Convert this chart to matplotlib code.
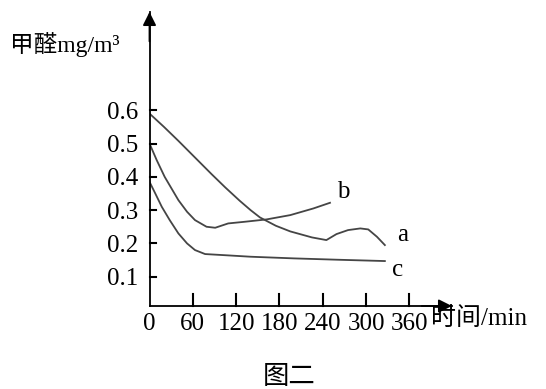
"""Formaldehyde concentration over time (图二)."""

import matplotlib
matplotlib.use("Agg")
import matplotlib.pyplot as plt

plt.rcParams["font.family"] = ["Liberation Serif", "Noto Sans CJK SC"]

a_time = [0, 20, 40, 63, 86, 105, 125, 140, 153, 175, 195, 225, 245, 259, 275, 292, 303, 315, 326]
a_conc = [0.59, 0.55, 0.508, 0.458, 0.408, 0.368, 0.328, 0.30, 0.278, 0.253, 0.236, 0.218,
          0.21, 0.228, 0.24, 0.245, 0.242, 0.22, 0.195]
b_time = [0, 10, 21, 40, 52, 63, 79, 91, 109, 132, 162, 195, 227, 250]
b_conc = [0.50, 0.45, 0.40, 0.33, 0.295, 0.27, 0.25, 0.247, 0.26, 0.265, 0.272, 0.285,
          0.305, 0.322]
c_time = [0, 8, 17, 28, 40, 52, 63, 77, 109, 140, 200, 260, 326]
c_conc = [0.385, 0.35, 0.31, 0.27, 0.23, 0.20, 0.18, 0.168, 0.164, 0.16, 0.155, 0.151, 0.147]

x_ticks = [0, 60, 120, 180, 240, 300, 360]
y_ticks = [0.1, 0.2, 0.3, 0.4, 0.5, 0.6]
curve_labels = [("a", 350, 0.225), ("b", 268, 0.354), ("c", 343, 0.12)]

W, H = 546, 389
fig = plt.figure(figsize=(W / 100, H / 100), dpi=100)
x0, x1, y0, y1 = 149.5, 452, 306, 12
ax = fig.add_axes([x0 / W, 1 - y0 / H, (x1 - x0) / W, (y0 - y1) / H])

line_kw = dict(color="#454545", linewidth=1.3)
ax.plot(a_time, a_conc, **line_kw)
ax.plot(b_time, b_conc, **line_kw)
ax.plot(c_time, c_conc, **line_kw)
for name, x, y in curve_labels:
    ax.text(x, y, name, fontsize=18, ha="center", va="center")

ax.set_xlim(0, 419)
ax.set_ylim(0.012, 0.895)
ax.spines["top"].set_visible(False)
ax.spines["right"].set_visible(False)
ax.spines["left"].set_linewidth(1.3)
ax.spines["bottom"].set_linewidth(1.3)

arrow = dict(arrowstyle="-|>", color="black", lw=1.3, mutation_scale=20,
             shrinkA=0, shrinkB=0)
ax.annotate("", xy=(1, 0), xytext=(0.9, 0), xycoords="axes fraction", arrowprops=arrow)
ax.annotate("", xy=(0, 1), xytext=(0, 0.9), xycoords="axes fraction", arrowprops=arrow)

ax.set_xticks(x_ticks)
ax.set_xticklabels([str(t) for t in x_ticks])
ax.set_yticks(y_ticks)
ax.set_yticklabels([f"{t:.1f}" for t in y_ticks])
ax.tick_params(axis="both", length=0, labelsize=18)
ax.tick_params(axis="x", pad=5)
ax.tick_params(axis="y", pad=8)
# inward tick marks drawn as short lines on the axes
for t in x_ticks[1:]:
    ax.plot([t, t], [0, 0.04], transform=ax.get_xaxis_transform(), color="black",
            lw=1.5, clip_on=False, zorder=5)
for t in y_ticks:
    ax.plot([0, 0.022], [t, t], transform=ax.get_yaxis_transform(), color="black",
            lw=1.5, clip_on=False, zorder=5)

fig.text(10 / W, 1 - 45 / H, "甲醛mg/m³", fontsize=17, ha="left", va="center")
fig.text(431 / W, 1 - 319 / H, "时间/min", fontsize=18, ha="left", va="center")
fig.text(289 / W, 1 - 366 / H, "图二", fontsize=19, ha="center", va="top")

fig.savefig("out.png", dpi=100)
